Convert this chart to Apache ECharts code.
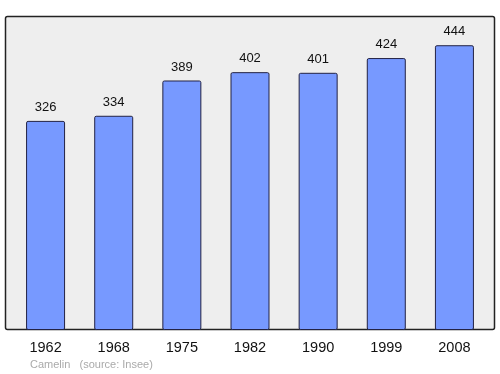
<!DOCTYPE html>
<html><head><meta charset="utf-8">
<script src="https://cdn.jsdelivr.net/npm/echarts@6/dist/echarts.min.js"></script>
<style>html,body{margin:0;padding:0;background:#fff}#c{width:500px;height:374px}</style>
</head><body><div id="c"></div>
<script>
var years = ['1962','1968','1975','1982','1990','1999','2008'];
var population = [326,334,389,402,401,424,444];
var chart = echarts.init(document.getElementById('c'));
chart.setOption({
  animation:false,
  graphic:[
    {type:'rect',shape:{x:5.5,y:16.5,width:489,height:313,r:2},style:{fill:'#eeeeee',stroke:'#222',lineWidth:1.5},z:-10},
    {type:'text',left:30,top:359,style:{text:'Camelin   (source: Insee)',fill:'#aaaaaa',font:'11px "Liberation Sans", Arial, sans-serif'}}
  ],
  grid:{left:11.5,right:11.5,top:17,bottom:44},
  xAxis:{type:'category',data:years,axisLine:{show:false},axisTick:{show:false},
    axisLabel:{color:'#111',fontSize:14.5,margin:10,fontFamily:'Liberation Sans, Arial, sans-serif'}},
  yAxis:{type:'value',min:0,max:488,show:false,splitLine:{show:false}},
  series:[{type:'bar',data:population,barWidth:39,
    itemStyle:{color:'#7799ff',borderColor:'#222244',borderWidth:1,borderRadius:1.5},
    label:{show:true,position:'top',distance:7,color:'#111',fontSize:13,fontFamily:'Liberation Sans, Arial, sans-serif'}}]
});
</script></body></html>
